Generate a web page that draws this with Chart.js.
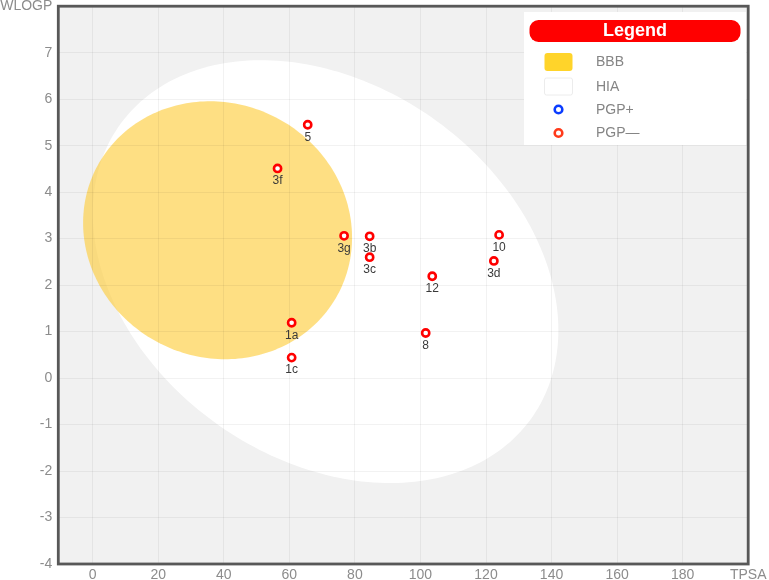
<!DOCTYPE html>
<html><head><meta charset="utf-8">
<script src="https://cdn.jsdelivr.net/npm/chart.js@4.4.1/dist/chart.umd.min.js"></script>
<style>html,body{margin:0;padding:0;background:#fff;} #wrap{width:769px;height:580px;position:relative;}</style>
</head><body><div id="wrap"><canvas id="c" width="769" height="580"></canvas></div>
<script>
// ---- data ----
const compoundLabels = ['5','3f','3g','3b','3c','12','10','3d','1a','8','1c'];
const tpsa  = [65.6, 56.4, 76.7, 84.5, 84.5, 103.6, 124.0, 122.4, 60.7, 101.6, 60.7];
const wlogp = [5.45, 4.51, 3.06, 3.05, 2.60, 2.19, 3.08, 2.52, 1.19, 0.97, 0.44];
const xTickValues = [0,20,40,60,80,100,120,140,160,180,200];
const yTickValues = [-4,-3,-2,-1,0,1,2,3,4,5,6,7,8];
const xAxisTitle = 'TPSA';
const yAxisTitle = 'WLOGP';
// regions: [centerTPSA, centerWLOGP, semiAxisTPSA, semiAxisWLOGP, angleRad]
const hiaEllipse = [71.05, 2.29, 71.04, 4.37, -0.0178];
const bbbEllipse = [38.1, 3.18, 41.03, 2.77, -0.0039];
const legendTitle = 'Legend';
const legendItems = ['BBB','HIA','PGP+','PGP\u2014'];

const FONT = '"Liberation Sans", Arial, Helvetica, sans-serif';

function ellipsePath(ctx, chart, e) {
  const xs = chart.scales.x, ys = chart.scales.y;
  const [cx, cy, a, b, th] = e;
  ctx.beginPath();
  const N = 240;
  for (let i = 0; i <= N; i++) {
    const t = i / N * Math.PI * 2;
    const u = a * Math.cos(t), v = b * Math.sin(t);
    const x = cx + u * Math.cos(th) - v * Math.sin(th);
    const y = cy + u * Math.sin(th) + v * Math.cos(th);
    const px = xs.getPixelForValue(x), py = ys.getPixelForValue(y);
    if (i === 0) ctx.moveTo(px, py); else ctx.lineTo(px, py);
  }
  ctx.closePath();
}

const eggPlugin = {
  id: 'egg',
  beforeDraw(chart) {
    const ctx = chart.ctx, ca = chart.chartArea;
    ctx.save();
    ctx.fillStyle = '#f1f1f1';
    ctx.fillRect(ca.left, ca.top, ca.right - ca.left, ca.bottom - ca.top);
    ctx.beginPath();
    ctx.rect(ca.left, ca.top, ca.right - ca.left, ca.bottom - ca.top);
    ctx.clip();
    ellipsePath(ctx, chart, hiaEllipse);
    ctx.fillStyle = '#ffffff';
    ctx.fill();
    ellipsePath(ctx, chart, bbbEllipse);
    ctx.fillStyle = 'rgba(254, 204, 55, 0.62)';
    ctx.fill();
    ctx.restore();
  },
  afterDatasetsDraw(chart) {
    const ctx = chart.ctx;
    const meta = chart.getDatasetMeta(0);
    ctx.save();
    ctx.font = '12px ' + FONT;
    ctx.fillStyle = '#3a3a3a';
    ctx.textAlign = 'center';
    ctx.textBaseline = 'middle';
    meta.data.forEach((pt, i) => {
      ctx.fillText(compoundLabels[i], pt.x, pt.y + 12.5);
    });
    ctx.restore();
  },
  afterDraw(chart) {
    const ctx = chart.ctx, ca = chart.chartArea;
    ctx.save();
    // frame
    ctx.strokeStyle = '#585858';
    ctx.lineWidth = 2.8;
    ctx.strokeRect(ca.left, ca.top, ca.right - ca.left, ca.bottom - ca.top);
    // legend box
    ctx.fillStyle = '#ffffff';
    ctx.fillRect(524, 12, 222, 133);
    ctx.fillStyle = '#ff0000';
    ctx.beginPath();
    ctx.roundRect(529.5, 20, 211, 22, 9);
    ctx.fill();
    ctx.fillStyle = '#ffffff';
    ctx.font = 'bold 18px ' + FONT;
    ctx.textAlign = 'center';
    ctx.textBaseline = 'middle';
    ctx.fillText(legendTitle, 635, 31.5);
    // swatches
    ctx.fillStyle = '#ffd42a';
    ctx.beginPath(); ctx.roundRect(544.5, 53, 28, 18, 3); ctx.fill();
    ctx.fillStyle = '#ffffff';
    ctx.strokeStyle = '#ececec'; ctx.lineWidth = 1;
    ctx.beginPath(); ctx.roundRect(544.5, 78, 28, 17, 2); ctx.fill(); ctx.stroke();
    ctx.lineWidth = 2.6;
    ctx.strokeStyle = '#0a3cff';
    ctx.beginPath(); ctx.arc(558.5, 109.5, 3.8, 0, Math.PI * 2); ctx.stroke();
    ctx.strokeStyle = '#ff3a1a';
    ctx.beginPath(); ctx.arc(558.5, 133, 3.8, 0, Math.PI * 2); ctx.stroke();
    ctx.fillStyle = '#858585';
    ctx.font = '14px ' + FONT;
    ctx.textAlign = 'left';
    const ys = [62, 87, 110, 133];
    legendItems.forEach((t, i) => ctx.fillText(t, 596, ys[i]));
    ctx.restore();
  }
};

new Chart(document.getElementById('c'), {
  type: 'scatter',
  data: {
    datasets: [{
      label: 'PGP\u2014',
      data: tpsa.map((x, i) => ({ x: x, y: wlogp[i] })),
      pointRadius: 3.6,
      pointHoverRadius: 3.6,
      borderWidth: 2.6,
      borderColor: '#ff0000',
      backgroundColor: '#ffffff'
    }]
  },
  options: {
    responsive: false,
    animation: false,
    devicePixelRatio: 1,
    layout: { padding: { left: 0, top: 5.4, right: 20.8, bottom: 0 } },
    plugins: { legend: { display: false }, tooltip: { enabled: false } },
    scales: {
      x: {
        type: 'linear', min: -10.5, max: 200,
        afterBuildTicks: s => { s.ticks = xTickValues.map(v => ({ value: v })); },
        afterFit: s => { s.height = 16; s.paddingLeft = 0; s.paddingRight = 0; s.paddingTop = 0; s.paddingBottom = 0; },
        grid: { color: 'rgba(0,0,0,0.05)', drawTicks: false },
        border: { display: false },
        ticks: {
          padding: 3, color: '#8c8c8c', font: { size: 14, family: FONT },
          maxRotation: 0, autoSkip: false,
          callback: v => (v === 200 ? xAxisTitle : String(v))
        }
      },
      y: {
        type: 'linear', min: -4, max: 8,
        afterBuildTicks: s => { s.ticks = yTickValues.map(v => ({ value: v })); },
        afterFit: s => { s.width = 58.3; s.paddingLeft = 0; s.paddingRight = 0; s.paddingTop = 0; s.paddingBottom = 0; },
        grid: { color: 'rgba(0,0,0,0.05)', drawTicks: false },
        border: { display: false },
        ticks: {
          padding: 6, color: '#8c8c8c', font: { size: 14, family: FONT },
          autoSkip: false,
          callback: v => (v === 8 ? yAxisTitle : String(v))
        }
      }
    }
  },
  plugins: [eggPlugin]
});
</script>
</body></html>
